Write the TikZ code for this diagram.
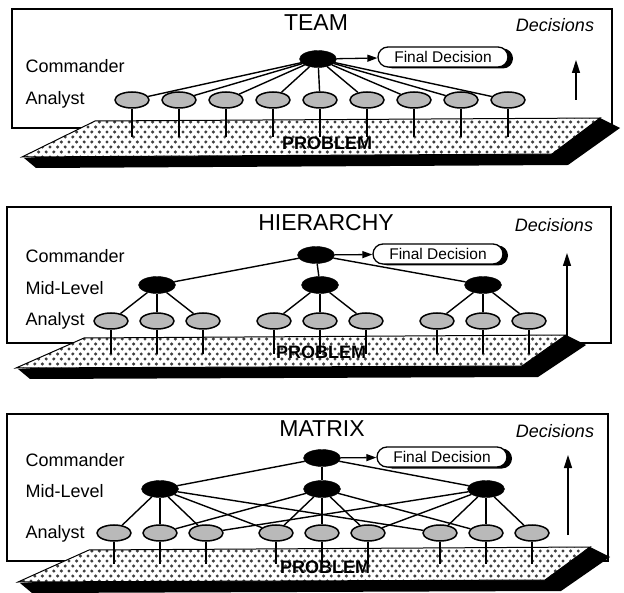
\documentclass[tikz,border=0pt]{standalone}
\usepackage{fontspec}
\setmainfont{Liberation Sans}
\usetikzlibrary{shapes.geometric, arrows.meta, shadows, calc}

\colorlet{dotgray}{black!75}

\tikzset{
    panel/.style={draw, line width=1.2pt},
    boss/.style={ellipse, fill=black, draw=black, minimum width=37pt, minimum height=17pt, inner sep=0pt},
    analyst/.style={ellipse, fill=gray!55, draw=black, line width=1.5pt, minimum width=34pt, minimum height=16pt, inner sep=0pt},
    rowname/.style={anchor=west, font=\fontsize{18}{18}\selectfont},
    title/.style={font=\fontsize{23}{23}\selectfont},
    decis/.style={font=\fontsize{18}{18}\selectfont\itshape},
    problem/.style={font=\fontsize{18}{18}\selectfont\bfseries},
    finalbox/.style={draw, line width=1.3pt, fill=white, rounded corners=10pt, minimum width=130pt, minimum height=20pt, inner sep=0pt, font=\fontsize{15.5}{15.5}\selectfont, drop shadow={shadow xshift=5pt, shadow yshift=-1.5pt, fill=black, opacity=1}},
    link/.style={line width=1.4pt},
    stem/.style={line width=1.1pt},
    upward/.style={line width=1.5pt, -{Triangle[length=13pt, width=8pt]}},
    toward/.style={line width=1.3pt, -{Triangle[length=10pt, width=7pt]}},
}

\begin{document}
\begin{tikzpicture}[x=1pt, y=-1pt]
    \useasboundingbox (0,0) rectangle (624,593);

    \draw[panel] (12,9) rectangle (612,128);
    \draw[panel] (7,207) rectangle (611,343);
    \draw[panel] (7,414) rectangle (608,561);

    \coordinate (tl1) at (95,121);  \coordinate (tr1) at (600,118);
    \coordinate (br1) at (552,154); \coordinate (bl1) at (22,157);
    \coordinate (tl2) at (84,338);  \coordinate (tr2) at (566,335);
    \coordinate (br2) at (522,366); \coordinate (bl2) at (16,368);
    \coordinate (tl3) at (89,550);  \coordinate (tr3) at (590,547);
    \coordinate (br3) at (545,580); \coordinate (bl3) at (18,582);

    \foreach \p/\ytop in {1/117,2/334,3/546} {
        \fill ($(bl\p)+(2,1)$) -- ($(bl\p)+(14,11)$) -- ($(br\p)+(16,11)$) -- ($(tr\p)+(20,10)$) -- (tr\p) -- cycle;
        \begin{scope}
            \clip (tl\p) -- (tr\p) -- (br\p) -- (bl\p) -- cycle;
            \fill[white] (tl\p) -- (tr\p) -- (br\p) -- (bl\p) -- cycle;
            \foreach \r in {0,...,8} {
                \foreach \c in {0,...,79} {
                    \pgfmathsetmacro{\dx}{12 + 7.6*\c + 3.8*mod(\r,2)}
                    \pgfmathsetmacro{\dy}{\ytop + 5*\r}
                    \fill[dotgray] (\dx,\dy) circle (1.7pt);
                }
            }
        \end{scope}
        \draw[line width=1pt] (tl\p) -- (tr\p) -- (br\p) -- (bl\p) -- cycle;
    }

    \node[problem] (pb1) at (327,143) {PROBLEM};
    \node[problem] (pb2) at (321,352) {PROBLEM};
    \node[problem] (pb3) at (325,567) {PROBLEM};

    \node[title] (team) at (316,23) {TEAM};
    \node[decis] (dec1) at (555,25) {Decisions};
    \node[rowname] (cmd1) at (22,66) {Commander};
    \node[rowname] (ana1) at (22,100) {Analyst};
    \node[boss] (c1) at (318,59) {};
    \node[finalbox] (fd1) at (443,57) {Final Decision};
    \draw[toward] (c1) -- (fd1);
    \foreach \i in {1,...,9} {
        \pgfmathsetmacro{\x}{85 + 47*\i}
        \node[analyst] (a1-\i) at (\x,100) {};
        \coordinate (s1-\i) at (\x,137);
        \draw[stem] (a1-\i) -- (s1-\i);
        \draw[link] (c1) -- (a1-\i);
    }
    \coordinate (lo1) at (576,100);
    \coordinate (hi1) at (576,60);
    \draw[upward] (lo1) -- (hi1);

    \node[title] (hier) at (326,223) {HIERARCHY};
    \node[decis] (dec2) at (554,225) {Decisions};
    \node[rowname] (cmd2) at (22,256) {Commander};
    \node[rowname] (mid2) at (22,288) {Mid-Level};
    \node[rowname] (ana2) at (22,321) {Analyst};
    \node[boss] (c2) at (316,255) {};
    \node[finalbox] (fd2) at (438,254) {Final Decision};
    \draw[toward] (c2) -- (fd2);
    \foreach \m/\mx in {1/157,2/320,3/483} {
        \node[boss] (m2-\m) at (\mx,285) {};
        \draw[link] (c2) -- (m2-\m);
        \foreach \k in {1,2,3} {
            \pgfmathsetmacro{\x}{\mx + 46*(\k-2)}
            \node[analyst] (a2-\m-\k) at (\x,321) {};
            \coordinate (s2-\m-\k) at (\x,354);
            \draw[stem] (a2-\m-\k) -- (s2-\m-\k);
            \draw[link] (m2-\m) -- (a2-\m-\k);
        }
    }
    \coordinate (lo2) at (567,337);
    \coordinate (hi2) at (567,253);
    \draw[upward] (lo2) -- (hi2);

    \node[title] (matrix) at (322,429) {MATRIX};
    \node[decis] (dec3) at (555,431) {Decisions};
    \node[rowname] (cmd3) at (22,460) {Commander};
    \node[rowname] (mid3) at (22,491) {Mid-Level};
    \node[rowname] (ana3) at (22,534) {Analyst};
    \node[boss] (c3) at (322,458) {};
    \node[finalbox] (fd3) at (442,457) {Final Decision};
    \draw[toward] (c3) -- (fd3);
    \foreach \m/\mx in {1/160,2/322,3/486} {
        \node[boss] (m3-\m) at (\mx,489) {};
        \draw[link] (c3) -- (m3-\m);
        \foreach \k in {1,2,3} {
            \pgfmathsetmacro{\x}{\mx + 46*(\k-2)}
            \node[analyst] (a3-\m-\k) at (\x,533) {};
            \coordinate (s3-\m-\k) at (\x,564);
            \draw[stem] (a3-\m-\k) -- (s3-\m-\k);
            \draw[link] (m3-\m) -- (a3-\m-\k);
        }
    }
    \foreach \m in {1,2,3} {
        \foreach \g in {1,2,3} {
            \ifnum\g=\m\else
                \draw[link] (m3-\m) -- (a3-\g-\m);
            \fi
        }
    }
    \coordinate (lo3) at (568,535);
    \coordinate (hi3) at (568,455);
    \draw[upward] (lo3) -- (hi3);
\end{tikzpicture}
\end{document}
